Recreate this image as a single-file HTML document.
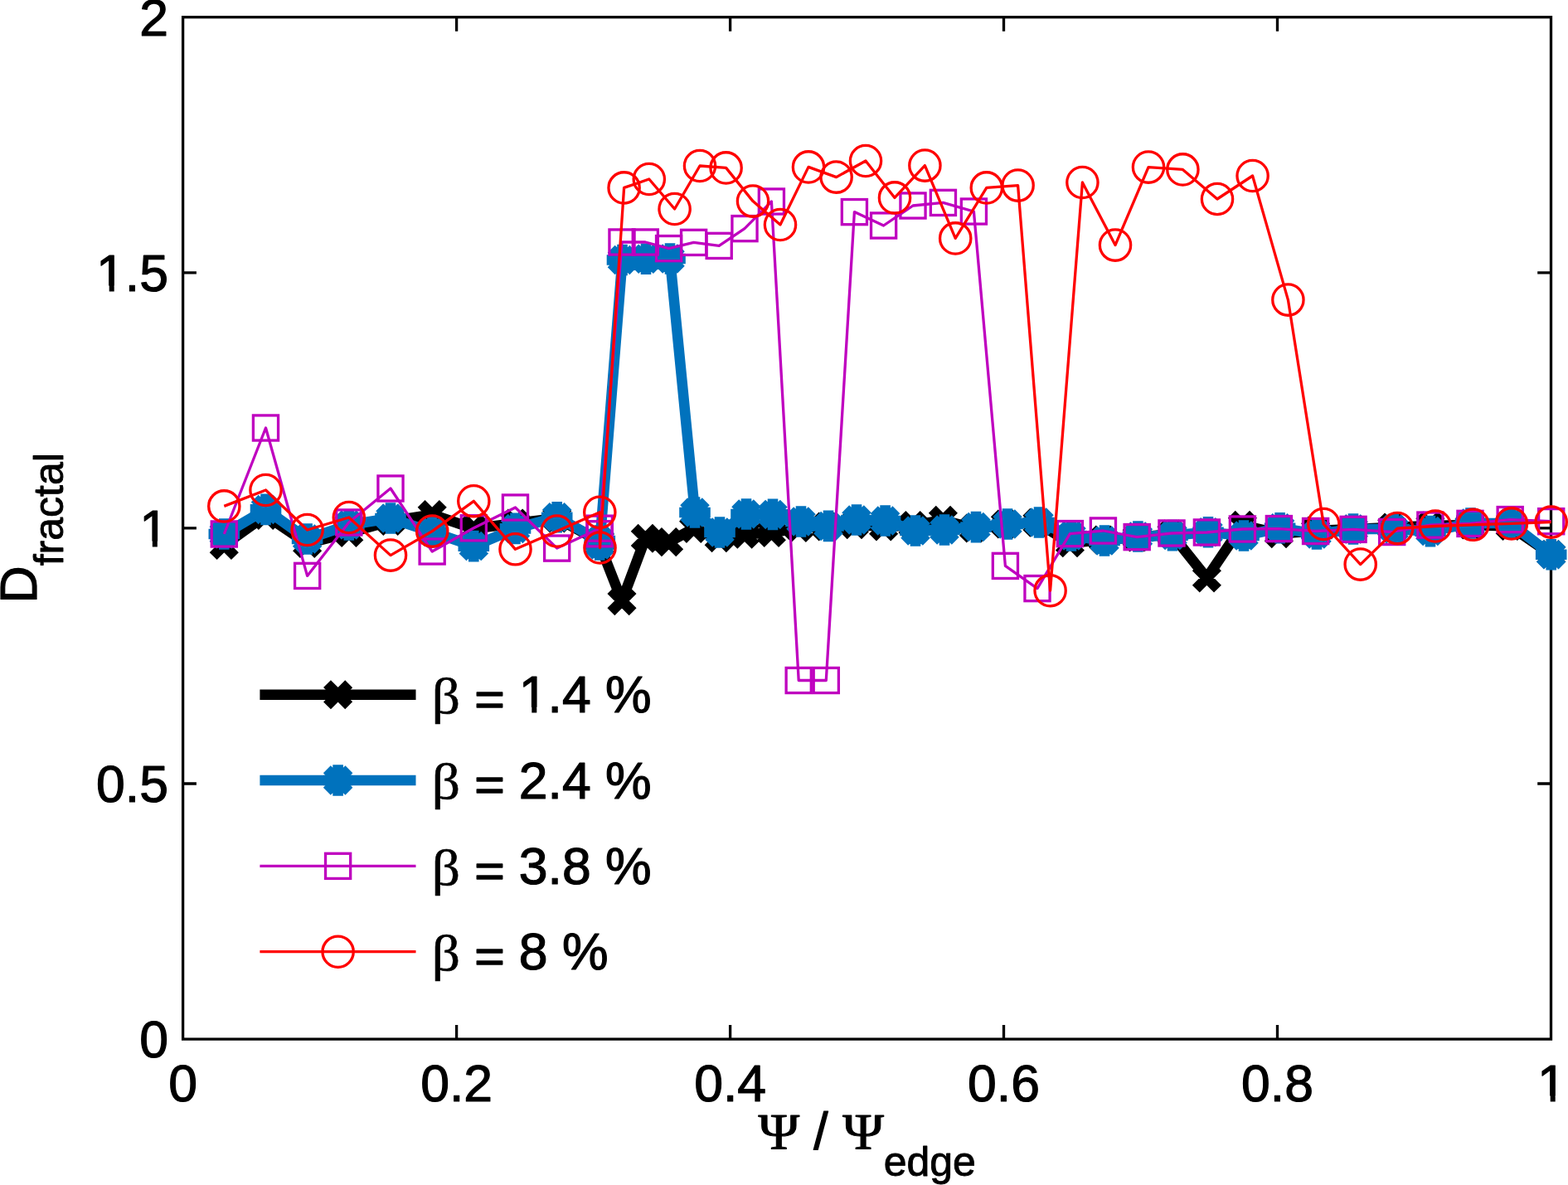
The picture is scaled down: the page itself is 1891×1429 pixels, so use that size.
<!DOCTYPE html>
<html lang="en"><head><meta charset="utf-8"><title>Fractal dimension versus normalised flux</title>
<style>html,body{margin:0;padding:0;background:#fff}body{width:1891px;height:1429px;overflow:hidden}svg{display:block}text{font-family:"Liberation Sans",sans-serif;font-size:62.5px;fill:#000;stroke:#000;stroke-width:1.2;stroke-linejoin:round}.sy{font-family:"Liberation Serif",serif}.sub{font-size:50px;stroke-width:0.9}</style></head><body>
<svg width="1891" height="1429" viewBox="0 0 1891 1429">
<rect x="0" y="0" width="1891" height="1429" fill="#fff"/>
<g fill="none" stroke="#000" stroke-width="3.3" stroke-linecap="butt">
<rect x="220.6" y="20.7" width="1649.9" height="1232.4"/>
<path d="M550.6 1253.1V1236.1M550.6 20.7V37.7M880.6 1253.1V1236.1M880.6 20.7V37.7M1210.5 1253.1V1236.1M1210.5 20.7V37.7M1540.5 1253.1V1236.1M1540.5 20.7V37.7M220.6 945H236.9M1870.5 945H1854.2M220.6 636.9H236.9M1870.5 636.9H1854.2M220.6 328.8H236.9M1870.5 328.8H1854.2"/>
</g>
<g>
<text x="220.6" y="1328.1" text-anchor="middle">0</text>
<text x="550.6" y="1328.1" text-anchor="middle">0.2</text>
<text x="880.6" y="1328.1" text-anchor="middle">0.4</text>
<text x="1210.5" y="1328.1" text-anchor="middle">0.6</text>
<text x="1540.5" y="1328.1" text-anchor="middle">0.8</text>
<text x="1871.5" y="1328.1" text-anchor="middle">1</text>
<text x="203" y="1275.4" text-anchor="end">0</text>
<text x="203" y="967.3" text-anchor="end">0.5</text>
<text x="203" y="659.2" text-anchor="end">1</text>
<text x="203" y="351.1" text-anchor="end">1.5</text>
<text x="203" y="43" text-anchor="end">2</text>
</g>
<text><tspan class="sy" x="914.5" y="1385.4" font-size="61.7" stroke-width="1" textLength="49.69" lengthAdjust="spacingAndGlyphs">Ψ</tspan><tspan> </tspan><tspan x="981.3" y="1385.7">/</tspan><tspan> </tspan><tspan class="sy" x="1016.3" y="1385.4" font-size="61.7" stroke-width="1" textLength="49.69" lengthAdjust="spacingAndGlyphs">Ψ</tspan><tspan class="sub" x="1065.7" y="1417.95">edge</tspan></text>
<text transform="translate(45.1 727.4) rotate(-90)"><tspan x="0" y="-1.4">D</tspan><tspan class="sub" x="45.1" y="31.25">fractal</tspan></text>
<g>
<polyline fill="none" stroke="#000000" stroke-width="12.6" stroke-linejoin="round" stroke-linecap="butt" points="270.3,657.5 320.5,621.5 370.6,655.5 420.8,642.5 471,628.5 521.2,620.5 571.3,637.5 621.5,631 671.7,625 723.3,653 723,656 750,724.7 778.3,649.3 806.6,653.6 836.6,637.4 867.2,648.6 898,644.3 930.4,642.5 963.2,636.5 996.3,635 1030.4,632.7 1065.6,635 1101,633.5 1137.4,627.3 1174.4,637 1212.4,632 1251,630.3 1290.4,654.8 1330.4,651 1371.2,648 1413,644 1455.4,697 1498.4,633.4 1542.4,643.6 1586.6,640 1632.1,638 1678.7,636 1724.9,634 1773,633 1821.2,634.5 1870.7,668.5"/>
<path fill="none" stroke="#000000" stroke-width="12.6" stroke-linecap="butt" d="M257.2 644.4l26.2 26.2M257.2 670.6l26.2 -26.2M307.4 608.4l26.2 26.2M307.4 634.6l26.2 -26.2M357.5 642.4l26.2 26.2M357.5 668.6l26.2 -26.2M407.7 629.4l26.2 26.2M407.7 655.6l26.2 -26.2M457.9 615.4l26.2 26.2M457.9 641.6l26.2 -26.2M508.1 607.4l26.2 26.2M508.1 633.6l26.2 -26.2M558.2 624.4l26.2 26.2M558.2 650.6l26.2 -26.2M608.4 617.9l26.2 26.2M608.4 644.1l26.2 -26.2M658.6 611.9l26.2 26.2M658.6 638.1l26.2 -26.2M710.2 639.9l26.2 26.2M710.2 666.1l26.2 -26.2M709.9 642.9l26.2 26.2M709.9 669.1l26.2 -26.2M736.9 711.6l26.2 26.2M736.9 737.8l26.2 -26.2M765.2 636.2l26.2 26.2M765.2 662.4l26.2 -26.2M793.5 640.5l26.2 26.2M793.5 666.7l26.2 -26.2M823.5 624.3l26.2 26.2M823.5 650.5l26.2 -26.2M854.1 635.5l26.2 26.2M854.1 661.7l26.2 -26.2M884.9 631.2l26.2 26.2M884.9 657.4l26.2 -26.2M917.3 629.4l26.2 26.2M917.3 655.6l26.2 -26.2M950.1 623.4l26.2 26.2M950.1 649.6l26.2 -26.2M983.2 621.9l26.2 26.2M983.2 648.1l26.2 -26.2M1017.3 619.6l26.2 26.2M1017.3 645.8l26.2 -26.2M1052.5 621.9l26.2 26.2M1052.5 648.1l26.2 -26.2M1087.9 620.4l26.2 26.2M1087.9 646.6l26.2 -26.2M1124.3 614.2l26.2 26.2M1124.3 640.4l26.2 -26.2M1161.3 623.9l26.2 26.2M1161.3 650.1l26.2 -26.2M1199.3 618.9l26.2 26.2M1199.3 645.1l26.2 -26.2M1237.9 617.2l26.2 26.2M1237.9 643.4l26.2 -26.2M1277.3 641.7l26.2 26.2M1277.3 667.9l26.2 -26.2M1317.3 637.9l26.2 26.2M1317.3 664.1l26.2 -26.2M1358.1 634.9l26.2 26.2M1358.1 661.1l26.2 -26.2M1399.9 630.9l26.2 26.2M1399.9 657.1l26.2 -26.2M1442.3 683.9l26.2 26.2M1442.3 710.1l26.2 -26.2M1485.3 620.3l26.2 26.2M1485.3 646.5l26.2 -26.2M1529.3 630.5l26.2 26.2M1529.3 656.7l26.2 -26.2M1573.5 626.9l26.2 26.2M1573.5 653.1l26.2 -26.2M1619 624.9l26.2 26.2M1619 651.1l26.2 -26.2M1665.6 622.9l26.2 26.2M1665.6 649.1l26.2 -26.2M1711.8 620.9l26.2 26.2M1711.8 647.1l26.2 -26.2M1759.9 619.9l26.2 26.2M1759.9 646.1l26.2 -26.2M1808.1 621.4l26.2 26.2M1808.1 647.6l26.2 -26.2M1857.6 655.4l26.2 26.2M1857.6 681.6l26.2 -26.2"/>
<polyline fill="none" stroke="#0072BD" stroke-width="12.6" stroke-linejoin="round" stroke-linecap="butt" points="270.3,644 320.5,614.4 370.6,650 420.8,633 471,625 521.2,641.6 571.3,658.6 621.5,637.4 671.7,623.7 723.3,652 723.2,657 750.5,313.5 779,312.2 808,312 838,618 868,642 900,620 932,620.4 966,629 999,634.4 1033,627 1067.6,628 1104,640 1139,639 1177,635.6 1215,632 1253,630 1292,646 1332,652 1372.4,647 1414,645.6 1457,641.8 1500,646 1543.6,636.8 1588,644 1632,638 1681,638 1725,640.6 1773.5,631 1821.7,631 1870.7,668.7"/>
<path fill="none" stroke="#0072BD" stroke-width="12.6" stroke-linecap="butt" d="M251.5 644L289.1 644M257 630.7L283.6 657.3M270.3 625.2L270.3 662.8M283.6 630.7L257 657.3M301.7 614.4L339.3 614.4M307.2 601.1L333.8 627.7M320.5 595.6L320.5 633.2M333.8 601.1L307.2 627.7M351.8 650L389.4 650M357.3 636.7L383.9 663.3M370.6 631.2L370.6 668.8M383.9 636.7L357.3 663.3M402 633L439.6 633M407.5 619.7L434.1 646.3M420.8 614.2L420.8 651.8M434.1 619.7L407.5 646.3M452.2 625L489.8 625M457.7 611.7L484.3 638.3M471 606.2L471 643.8M484.3 611.7L457.7 638.3M502.4 641.6L540 641.6M507.9 628.3L534.4 654.9M521.2 622.8L521.2 660.4M534.4 628.3L507.9 654.9M552.5 658.6L590.1 658.6M558 645.3L584.6 671.9M571.3 639.8L571.3 677.4M584.6 645.3L558 671.9M602.7 637.4L640.3 637.4M608.2 624.1L634.8 650.7M621.5 618.6L621.5 656.2M634.8 624.1L608.2 650.7M652.9 623.7L690.5 623.7M658.4 610.4L685 637M671.7 604.9L671.7 642.5M685 610.4L658.4 637M704.5 652L742.1 652M710 638.7L736.6 665.3M723.3 633.2L723.3 670.8M736.6 638.7L710 665.3M704.4 657L742 657M709.9 643.7L736.5 670.3M723.2 638.2L723.2 675.8M736.5 643.7L709.9 670.3M731.7 313.5L769.3 313.5M737.2 300.2L763.8 326.8M750.5 294.7L750.5 332.3M763.8 300.2L737.2 326.8M760.2 312.2L797.8 312.2M765.7 298.9L792.3 325.5M779 293.4L779 331M792.3 298.9L765.7 325.5M789.2 312L826.8 312M794.7 298.7L821.3 325.3M808 293.2L808 330.8M821.3 298.7L794.7 325.3M819.2 618L856.8 618M824.7 604.7L851.3 631.3M838 599.2L838 636.8M851.3 604.7L824.7 631.3M849.2 642L886.8 642M854.7 628.7L881.3 655.3M868 623.2L868 660.8M881.3 628.7L854.7 655.3M881.2 620L918.8 620M886.7 606.7L913.3 633.3M900 601.2L900 638.8M913.3 606.7L886.7 633.3M913.2 620.4L950.8 620.4M918.7 607.1L945.3 633.7M932 601.6L932 639.2M945.3 607.1L918.7 633.7M947.2 629L984.8 629M952.7 615.7L979.3 642.3M966 610.2L966 647.8M979.3 615.7L952.7 642.3M980.2 634.4L1017.8 634.4M985.7 621.1L1012.3 647.7M999 615.6L999 653.2M1012.3 621.1L985.7 647.7M1014.2 627L1051.8 627M1019.7 613.7L1046.3 640.3M1033 608.2L1033 645.8M1046.3 613.7L1019.7 640.3M1048.8 628L1086.4 628M1054.3 614.7L1080.9 641.3M1067.6 609.2L1067.6 646.8M1080.9 614.7L1054.3 641.3M1085.2 640L1122.8 640M1090.7 626.7L1117.3 653.3M1104 621.2L1104 658.8M1117.3 626.7L1090.7 653.3M1120.2 639L1157.8 639M1125.7 625.7L1152.3 652.3M1139 620.2L1139 657.8M1152.3 625.7L1125.7 652.3M1158.2 635.6L1195.8 635.6M1163.7 622.3L1190.3 648.9M1177 616.8L1177 654.4M1190.3 622.3L1163.7 648.9M1196.2 632L1233.8 632M1201.7 618.7L1228.3 645.3M1215 613.2L1215 650.8M1228.3 618.7L1201.7 645.3M1234.2 630L1271.8 630M1239.7 616.7L1266.3 643.3M1253 611.2L1253 648.8M1266.3 616.7L1239.7 643.3M1273.2 646L1310.8 646M1278.7 632.7L1305.3 659.3M1292 627.2L1292 664.8M1305.3 632.7L1278.7 659.3M1313.2 652L1350.8 652M1318.7 638.7L1345.3 665.3M1332 633.2L1332 670.8M1345.3 638.7L1318.7 665.3M1353.6 647L1391.2 647M1359.1 633.7L1385.7 660.3M1372.4 628.2L1372.4 665.8M1385.7 633.7L1359.1 660.3M1395.2 645.6L1432.8 645.6M1400.7 632.3L1427.3 658.9M1414 626.8L1414 664.4M1427.3 632.3L1400.7 658.9M1438.2 641.8L1475.8 641.8M1443.7 628.5L1470.3 655.1M1457 623L1457 660.6M1470.3 628.5L1443.7 655.1M1481.2 646L1518.8 646M1486.7 632.7L1513.3 659.3M1500 627.2L1500 664.8M1513.3 632.7L1486.7 659.3M1524.8 636.8L1562.4 636.8M1530.3 623.5L1556.9 650.1M1543.6 618L1543.6 655.6M1556.9 623.5L1530.3 650.1M1569.2 644L1606.8 644M1574.7 630.7L1601.3 657.3M1588 625.2L1588 662.8M1601.3 630.7L1574.7 657.3M1613.2 638L1650.8 638M1618.7 624.7L1645.3 651.3M1632 619.2L1632 656.8M1645.3 624.7L1618.7 651.3M1662.2 638L1699.8 638M1667.7 624.7L1694.3 651.3M1681 619.2L1681 656.8M1694.3 624.7L1667.7 651.3M1706.2 640.6L1743.8 640.6M1711.7 627.3L1738.3 653.9M1725 621.8L1725 659.4M1738.3 627.3L1711.7 653.9M1754.7 631L1792.3 631M1760.2 617.7L1786.8 644.3M1773.5 612.2L1773.5 649.8M1786.8 617.7L1760.2 644.3M1802.9 631L1840.5 631M1808.4 617.7L1835 644.3M1821.7 612.2L1821.7 649.8M1835 617.7L1808.4 644.3M1851.9 668.7L1889.5 668.7M1857.4 655.4L1884 682M1870.7 649.9L1870.7 687.5M1884 655.4L1857.4 682"/>
<polyline fill="none" stroke="#BF00BF" stroke-width="3.3" stroke-linejoin="round" stroke-linecap="butt" points="270.3,644 320.5,516 370.6,694.4 420.8,630 471,589 521.2,665 571.3,636.8 621.5,612 671.7,661.1 723.3,637.2 723,643.8 750,292 778.3,292 806.6,299.6 836.6,292.4 867.2,296.4 898,275.6 930.4,243 963.2,820.5 996.3,820.5 1030.4,255.6 1065.6,272 1101,248 1137.4,244.4 1174.4,255 1212.4,682.4 1251,709.6 1290.4,643.6 1330.4,640 1371.2,647.6 1413,643 1455.4,642 1498.4,638 1542.4,637.6 1586.6,640.5 1632.1,638.4 1678.7,641.5 1724.9,633.1 1773,631.4 1821.2,626.6 1870.7,628.7"/>
<g fill="none" stroke="#BF00BF" stroke-width="3.3">
<rect x="255.23" y="628.92" width="30.15" height="30.15"/>
<rect x="305.4" y="500.93" width="30.15" height="30.15"/>
<rect x="355.56" y="679.32" width="30.15" height="30.15"/>
<rect x="405.74" y="614.92" width="30.15" height="30.15"/>
<rect x="455.91" y="573.92" width="30.15" height="30.15"/>
<rect x="506.08" y="649.92" width="30.15" height="30.15"/>
<rect x="556.24" y="621.72" width="30.15" height="30.15"/>
<rect x="606.41" y="596.92" width="30.15" height="30.15"/>
<rect x="656.59" y="646.02" width="30.15" height="30.15"/>
<rect x="708.22" y="622.12" width="30.15" height="30.15"/>
<rect x="707.92" y="628.72" width="30.15" height="30.15"/>
<rect x="734.92" y="276.93" width="30.15" height="30.15"/>
<rect x="763.22" y="276.93" width="30.15" height="30.15"/>
<rect x="791.52" y="284.53" width="30.15" height="30.15"/>
<rect x="821.52" y="277.32" width="30.15" height="30.15"/>
<rect x="852.12" y="281.32" width="30.15" height="30.15"/>
<rect x="882.92" y="260.53" width="30.15" height="30.15"/>
<rect x="915.32" y="227.93" width="30.15" height="30.15"/>
<rect x="948.12" y="805.42" width="30.15" height="30.15"/>
<rect x="981.22" y="805.42" width="30.15" height="30.15"/>
<rect x="1015.33" y="240.53" width="30.15" height="30.15"/>
<rect x="1050.52" y="256.93" width="30.15" height="30.15"/>
<rect x="1085.92" y="232.93" width="30.15" height="30.15"/>
<rect x="1122.33" y="229.33" width="30.15" height="30.15"/>
<rect x="1159.33" y="239.93" width="30.15" height="30.15"/>
<rect x="1197.33" y="667.32" width="30.15" height="30.15"/>
<rect x="1235.92" y="694.52" width="30.15" height="30.15"/>
<rect x="1275.33" y="628.52" width="30.15" height="30.15"/>
<rect x="1315.33" y="624.92" width="30.15" height="30.15"/>
<rect x="1356.12" y="632.52" width="30.15" height="30.15"/>
<rect x="1397.92" y="627.92" width="30.15" height="30.15"/>
<rect x="1440.33" y="626.92" width="30.15" height="30.15"/>
<rect x="1483.33" y="622.92" width="30.15" height="30.15"/>
<rect x="1527.33" y="622.52" width="30.15" height="30.15"/>
<rect x="1571.52" y="625.42" width="30.15" height="30.15"/>
<rect x="1617.02" y="623.32" width="30.15" height="30.15"/>
<rect x="1663.62" y="626.42" width="30.15" height="30.15"/>
<rect x="1709.83" y="618.02" width="30.15" height="30.15"/>
<rect x="1757.92" y="616.32" width="30.15" height="30.15"/>
<rect x="1806.12" y="611.52" width="30.15" height="30.15"/>
<rect x="1855.62" y="613.62" width="30.15" height="30.15"/>
</g>
<polyline fill="none" stroke="#FF0000" stroke-width="3.3" stroke-linejoin="round" stroke-linecap="butt" points="270.3,610.4 320.5,591 370.6,639 420.8,624 471,669.6 521.2,640.6 571.3,604.3 621.5,662.3 671.7,640.5 723.3,617.8 723.5,660.5 752.6,226.4 782.8,216 813.6,252 844,200 875.6,202.4 908,242.6 941,271 975,201.4 1008.6,213.6 1044,194 1079,238.4 1115.4,199.6 1152.2,287.4 1189.8,226.4 1227.6,223.6 1266.6,712.2 1305.4,220 1345,295.6 1385,201.6 1426.4,204.4 1468,240 1510.6,212 1553.4,361.6 1596.2,632 1640.7,680.6 1685.2,637.1 1731,634.5 1776.5,632.8 1822.9,631.4 1870.7,629.6"/>
<g fill="none" stroke="#FF0000" stroke-width="3.3">
<circle cx="270.3" cy="610.4" r="18.65"/>
<circle cx="320.5" cy="591" r="18.65"/>
<circle cx="370.6" cy="639" r="18.65"/>
<circle cx="420.8" cy="624" r="18.65"/>
<circle cx="471" cy="669.6" r="18.65"/>
<circle cx="521.2" cy="640.6" r="18.65"/>
<circle cx="571.3" cy="604.3" r="18.65"/>
<circle cx="621.5" cy="662.3" r="18.65"/>
<circle cx="671.7" cy="640.5" r="18.65"/>
<circle cx="723.3" cy="617.8" r="18.65"/>
<circle cx="723.5" cy="660.5" r="18.65"/>
<circle cx="752.6" cy="226.4" r="18.65"/>
<circle cx="782.8" cy="216" r="18.65"/>
<circle cx="813.6" cy="252" r="18.65"/>
<circle cx="844" cy="200" r="18.65"/>
<circle cx="875.6" cy="202.4" r="18.65"/>
<circle cx="908" cy="242.6" r="18.65"/>
<circle cx="941" cy="271" r="18.65"/>
<circle cx="975" cy="201.4" r="18.65"/>
<circle cx="1008.6" cy="213.6" r="18.65"/>
<circle cx="1044" cy="194" r="18.65"/>
<circle cx="1079" cy="238.4" r="18.65"/>
<circle cx="1115.4" cy="199.6" r="18.65"/>
<circle cx="1152.2" cy="287.4" r="18.65"/>
<circle cx="1189.8" cy="226.4" r="18.65"/>
<circle cx="1227.6" cy="223.6" r="18.65"/>
<circle cx="1266.6" cy="712.2" r="18.65"/>
<circle cx="1305.4" cy="220" r="18.65"/>
<circle cx="1345" cy="295.6" r="18.65"/>
<circle cx="1385" cy="201.6" r="18.65"/>
<circle cx="1426.4" cy="204.4" r="18.65"/>
<circle cx="1468" cy="240" r="18.65"/>
<circle cx="1510.6" cy="212" r="18.65"/>
<circle cx="1553.4" cy="361.6" r="18.65"/>
<circle cx="1596.2" cy="632" r="18.65"/>
<circle cx="1640.7" cy="680.6" r="18.65"/>
<circle cx="1685.2" cy="637.1" r="18.65"/>
<circle cx="1731" cy="634.5" r="18.65"/>
<circle cx="1776.5" cy="632.8" r="18.65"/>
<circle cx="1822.9" cy="631.4" r="18.65"/>
<circle cx="1870.7" cy="629.6" r="18.65"/>
</g>
</g>
<g>
<polyline fill="none" stroke="#000000" stroke-width="12.6" stroke-linejoin="round" stroke-linecap="butt" points="313.4,837.8 501.5,837.8"/>
<path fill="none" stroke="#000000" stroke-width="12.6" stroke-linecap="butt" d="M394.5 824.6l26.2 26.2M394.5 850.9l26.2 -26.2"/>
<polyline fill="none" stroke="#0072BD" stroke-width="12.6" stroke-linejoin="round" stroke-linecap="butt" points="313.4,941 501.5,941"/>
<path fill="none" stroke="#0072BD" stroke-width="12.6" stroke-linecap="butt" d="M390.2 941L425 941M394.3 927.7L420.9 954.3M407.6 922.2L407.6 959.8M420.9 927.7L394.3 954.3"/>
<polyline fill="none" stroke="#BF00BF" stroke-width="3.3" stroke-linejoin="round" stroke-linecap="butt" points="313.4,1044.3 501.5,1044.3"/>
<g fill="none" stroke="#BF00BF" stroke-width="3.3">
<rect x="392.53" y="1029.27" width="30.15" height="30.15"/>
</g>
<polyline fill="none" stroke="#FF0000" stroke-width="3.3" stroke-linejoin="round" stroke-linecap="butt" points="313.4,1147.7 501.5,1147.7"/>
<g fill="none" stroke="#FF0000" stroke-width="3.3">
<circle cx="407.6" cy="1147.7" r="18.65"/>
</g>
<text><tspan class="sy" x="520.8" y="860" font-size="61.2" stroke-width="0.6" textLength="34.25" lengthAdjust="spacingAndGlyphs">β</tspan><tspan> </tspan><tspan x="572.3" y="861.8" font-size="55" stroke-width="1.41" textLength="36.5" lengthAdjust="spacingAndGlyphs">=</tspan><tspan> </tspan><tspan x="625.8" y="859.4">1.4 </tspan><tspan x="730" y="859.4">%</tspan></text>
<text><tspan class="sy" x="520.8" y="963.3" font-size="61.2" stroke-width="0.6" textLength="34.25" lengthAdjust="spacingAndGlyphs">β</tspan><tspan> </tspan><tspan x="572.3" y="965.1" font-size="55" stroke-width="1.41" textLength="36.5" lengthAdjust="spacingAndGlyphs">=</tspan><tspan> </tspan><tspan x="625.8" y="962.7">2.4 </tspan><tspan x="730" y="962.7">%</tspan></text>
<text><tspan class="sy" x="520.8" y="1066.7" font-size="61.2" stroke-width="0.6" textLength="34.25" lengthAdjust="spacingAndGlyphs">β</tspan><tspan> </tspan><tspan x="572.3" y="1068.5" font-size="55" stroke-width="1.41" textLength="36.5" lengthAdjust="spacingAndGlyphs">=</tspan><tspan> </tspan><tspan x="625.8" y="1066.1">3.8 </tspan><tspan x="730" y="1066.1">%</tspan></text>
<text><tspan class="sy" x="520.8" y="1170" font-size="61.2" stroke-width="0.6" textLength="34.25" lengthAdjust="spacingAndGlyphs">β</tspan><tspan> </tspan><tspan x="572.3" y="1171.8" font-size="55" stroke-width="1.41" textLength="36.5" lengthAdjust="spacingAndGlyphs">=</tspan><tspan> </tspan><tspan x="625.8" y="1169.4">8 </tspan><tspan x="677.9" y="1169.4">%</tspan></text>
</g>
<g fill="#fff"><rect x="1856.7" y="1321.5" width="13.0" height="8.4"/><rect x="1875.7" y="1321.5" width="12.5" height="8.4"/><rect x="170.8" y="652.6" width="13.0" height="8.4"/><rect x="189.8" y="652.6" width="12.5" height="8.4"/><rect x="118.7" y="344.5" width="13.0" height="8.4"/><rect x="137.7" y="344.5" width="12.5" height="8.4"/><rect x="628.3" y="852.8" width="13.0" height="8.4"/><rect x="647.3" y="852.8" width="12.5" height="8.4"/></g>
</svg></body></html>
